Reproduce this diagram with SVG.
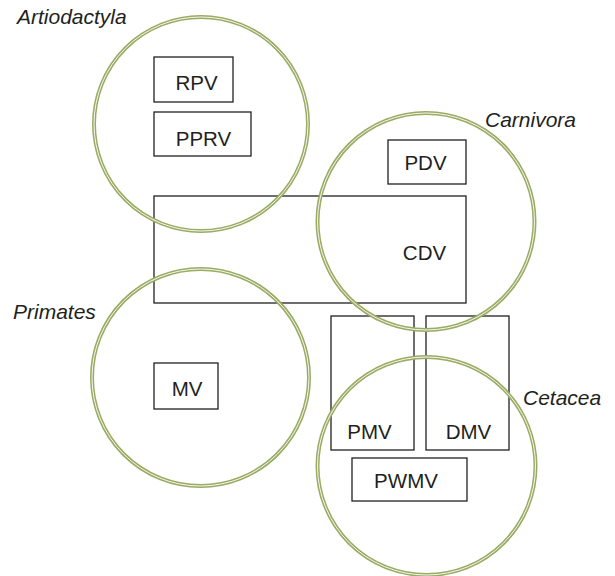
<svg xmlns="http://www.w3.org/2000/svg" width="615" height="576" viewBox="0 0 615 576">
<style>
.box{fill:none;stroke:#231f20;stroke-width:1.3}
.ring{fill:none;stroke:#9aab63;stroke-width:4}
.gap{fill:none;stroke:#ffffff;stroke-width:0.9}
.lbl{font-family:"Liberation Sans",Arial,sans-serif;font-size:20.5px;fill:#231f20;text-anchor:middle}
.grp{font-family:"Liberation Sans",Arial,sans-serif;font-size:21px;font-style:italic;fill:#231f20}
</style>
<rect width="615" height="576" fill="#ffffff"/>
<g id="boxes">
<g id="RPV"><rect class="box" x="154" y="57" width="79" height="45"/><text class="lbl" x="196.5" y="89.5">RPV</text></g>
<g id="PPRV"><rect class="box" x="154" y="112" width="97" height="44"/><text class="lbl" x="203.5" y="145.5">PPRV</text></g>
<g id="PDV"><rect class="box" x="388" y="140" width="78" height="44"/><text class="lbl" x="425.5" y="170">PDV</text></g>
<g id="CDV"><rect class="box" x="154" y="196" width="312" height="107"/><text class="lbl" x="424.5" y="260">CDV</text></g>
<g id="MV"><rect class="box" x="154" y="363" width="64" height="46"/><text class="lbl" x="187" y="396">MV</text></g>
<g id="PMV"><rect class="box" x="331" y="316" width="83" height="134"/><text class="lbl" x="369.5" y="439">PMV</text></g>
<g id="DMV"><rect class="box" x="426" y="316" width="83" height="134"/><text class="lbl" x="468.5" y="439">DMV</text></g>
<g id="PWMV"><rect class="box" x="352" y="458" width="115" height="43"/><text class="lbl" x="406" y="488">PWMV</text></g>
</g>
<g id="Artiodactyla"><circle class="ring" cx="201" cy="124" r="107"/><circle class="gap" cx="201" cy="124" r="107"/><text class="grp" x="17" y="23.5">Artiodactyla</text></g>
<g id="Carnivora"><circle class="ring" cx="426" cy="221.5" r="108.5"/><circle class="gap" cx="426" cy="221.5" r="108.5"/><text class="grp" x="485" y="127">Carnivora</text></g>
<g id="Primates"><circle class="ring" cx="200.5" cy="377.5" r="108.5"/><circle class="gap" cx="200.5" cy="377.5" r="108.5"/><text class="grp" x="13" y="319">Primates</text></g>
<g id="Cetacea"><circle class="ring" cx="426.5" cy="466" r="109"/><circle class="gap" cx="426.5" cy="466" r="109"/><text class="grp" x="523" y="404.5">Cetacea</text></g>
<g id="connectors"></g>
</svg>
